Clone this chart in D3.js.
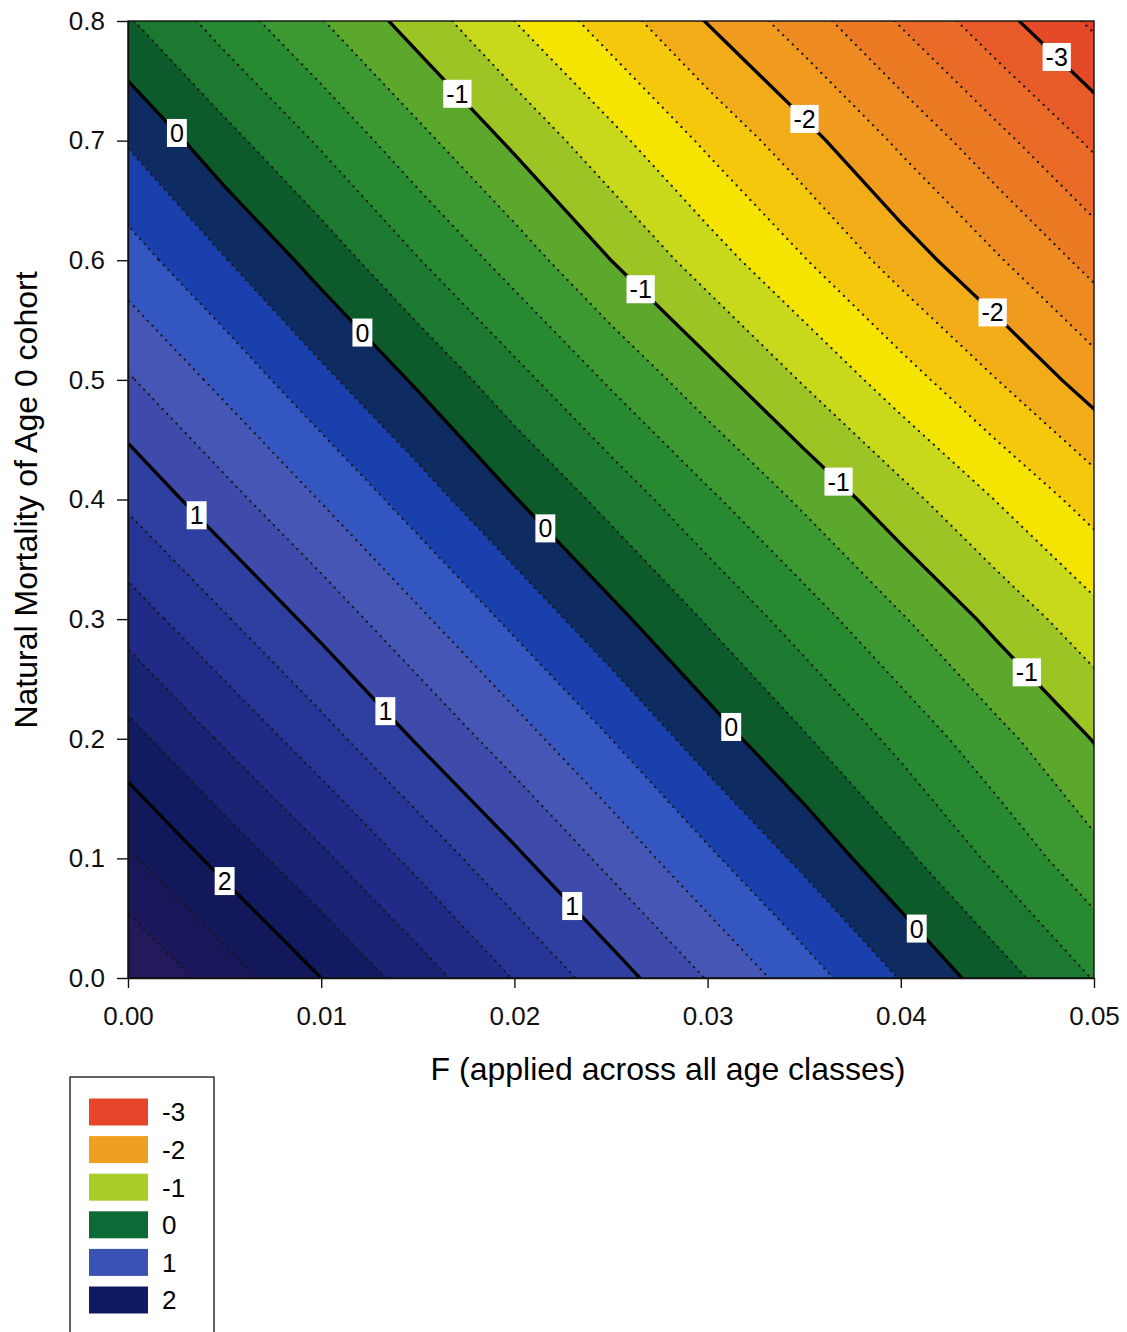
<!DOCTYPE html>
<html lang="en">
<head>
<meta charset="UTF-8">
<title>Contour - F vs natural mortality</title>
<script src="https://cdn.jsdelivr.net/npm/d3@7"></script>
<style>
  body { margin: 0; background: #fff; }
  svg { display: block; font-family: "Liberation Sans", Arial, sans-serif; }
  .axis text { font-size: 26px; fill: #111; }
  .axis path, .axis line { stroke: #111; stroke-width: 1.4px; }
</style>
</head>
<body>
<svg id="chart" width="1127" height="1332"></svg>
<script>
// grid: columns = F, rows = natural mortality
const fValues = [0, 0.005, 0.01, 0.015, 0.02, 0.025, 0.03, 0.035, 0.04, 0.045, 0.05];
const mValues = [0, 0.1, 0.2, 0.3, 0.4, 0.5, 0.6, 0.7, 0.8];
const zRows = [
  [2.60, 2.30, 2.00, 1.70, 1.39, 1.09, 0.79, 0.49, 0.19, -0.11, -0.41],
  [2.23, 1.93, 1.64, 1.34, 1.04, 0.74, 0.44, 0.15, -0.15, -0.45, -0.74],
  [1.87, 1.57, 1.28, 0.98, 0.69, 0.40, 0.10, -0.18, -0.46, -0.74, -1.01],
  [1.51, 1.22, 0.93, 0.64, 0.35, 0.06, -0.22, -0.50, -0.78, -1.06, -1.33],
  [1.16, 0.87, 0.59, 0.30, 0.01, -0.27, -0.56, -0.84, -1.13, -1.41, -1.69],
  [0.82, 0.54, 0.25, -0.03, -0.33, -0.63, -0.92, -1.22, -1.51, -1.80, -2.10],
  [0.49, 0.21, -0.08, -0.39, -0.69, -1.00, -1.30, -1.59, -1.89, -2.18, -2.47],
  [0.18, -0.13, -0.43, -0.74, -1.04, -1.34, -1.64, -1.93, -2.24, -2.54, -2.84],
  [-0.18, -0.49, -0.79, -1.09, -1.40, -1.70, -2.01, -2.31, -2.62, -2.93, -3.24]
];

// lower bound of each filled band and its colour
const bandLevels = [-3.4, -3.2, -3.0, -2.8, -2.6, -2.4, -2.2, -2.0, -1.8, -1.6, -1.4, -1.2, -1.0, -0.8, -0.6,
  -0.4, -0.2, 0, 0.2, 0.4, 0.6, 0.8, 1.0, 1.2, 1.4, 1.6, 1.8, 2.0, 2.2, 2.4];
const bandColors = ["#e23c26", "#e54a28", "#e85a28", "#ea6a27", "#ec7a25", "#ee8a22", "#f09a1e", "#f2ac18",
  "#f5c80c", "#f5e300", "#c8d81a", "#9cc424", "#5ca82c", "#3c9830", "#288a30", "#1b7a2f", "#0d5a2b",
  "#0f2c62", "#1a40ae", "#3356c0", "#4656b4", "#3e4bab", "#2f3fa0", "#263496", "#1f2b86", "#182374",
  "#111b62", "#121859", "#1a185a", "#23195b"];
const majorLevels = [-3, -2, -1, 0, 1, 2];

// contour labels
const labelLevels = [-3, -1, 0, -2, -1, -2, 0, -1, 1, 0, -1, 1, 0, 2, 1, 0];
const labelF = [0.0481, 0.0171, 0.0026, 0.0350, 0.0265, 0.0446, 0.0119, 0.0368, 0.0035, 0.0218, 0.0467, 0.0136, 0.0316, 0.0052, 0.0231, 0.0410];
const labelM = [0.770, 0.740, 0.707, 0.718, 0.574, 0.553, 0.537, 0.416, 0.386, 0.378, 0.258, 0.227, 0.215, 0.084, 0.062, 0.045];

const legendLabels = ["-3", "-2", "-1", "0", "1", "2"];
const legendColors = ["#e8462a", "#f0a020", "#a8cc28", "#0d6a36", "#3a52b4", "#0e1a62"];

const xTicks = [0, 0.01, 0.02, 0.03, 0.04, 0.05];
const yTicks = [0, 0.1, 0.2, 0.3, 0.4, 0.5, 0.6, 0.7, 0.8];

const svg = d3.select("#chart");
const plot = {left: 128, right: 1094, top: 21, bottom: 978};

const x = d3.scaleLinear().domain([0, 0.05]).range([plot.left, plot.right]);
const y = d3.scaleLinear().domain([0, 0.8]).range([plot.bottom, plot.top]);

// d3.contours puts sample i at i + 0.5
const gx = d3.scaleLinear().domain([0.5, fValues.length - 0.5]).range([fValues[0], fValues[fValues.length - 1]]);
const gy = d3.scaleLinear().domain([0.5, mValues.length - 0.5]).range([mValues[0], mValues[mValues.length - 1]]);
const proj = d3.geoTransform({
  point(px, py) { this.stream.point(x(gx(px)), y(gy(py))); }
});
const path = d3.geoPath(proj);

const contours = d3.contours().size([fValues.length, mValues.length]);
const flat = zRows.flat();

svg.append("defs").append("clipPath").attr("id", "clip")
  .append("rect")
  .attr("x", plot.left).attr("y", plot.top)
  .attr("width", plot.right - plot.left).attr("height", plot.bottom - plot.top);

const g = svg.append("g").attr("clip-path", "url(#clip)");

// filled bands
g.selectAll("path.band")
  .data(bandLevels.map((lv, i) => ({geom: contours.contour(flat, lv), color: bandColors[i]})))
  .join("path")
  .attr("class", "band")
  .attr("d", d => path(d.geom))
  .attr("fill", d => d.color)
  .attr("stroke", d => d.color)
  .attr("stroke-width", 0.6);

// dotted minor lines
g.selectAll("path.minor")
  .data(bandLevels.slice(1).filter(lv => !Number.isInteger(lv)))
  .join("path")
  .attr("class", "minor")
  .attr("d", lv => path(contours.contour(flat, lv)))
  .attr("fill", "none")
  .attr("stroke", "#161616")
  .attr("stroke-width", 2.2)
  .attr("stroke-linecap", "round")
  .attr("stroke-dasharray", "0.1,6.6");

// solid major lines
const majors = g.selectAll("path.major")
  .data(majorLevels)
  .join("path")
  .attr("class", "major")
  .attr("d", lv => path(contours.contour(flat, lv)))
  .attr("fill", "none")
  .attr("stroke", "#000")
  .attr("stroke-width", 3.3);

// frame
svg.append("rect")
  .attr("x", plot.left).attr("y", plot.top)
  .attr("width", plot.right - plot.left).attr("height", plot.bottom - plot.top)
  .attr("fill", "none").attr("stroke", "#111").attr("stroke-width", 1.4);

// axes
svg.append("g")
  .attr("class", "axis")
  .attr("transform", `translate(0,${plot.bottom})`)
  .call(d3.axisBottom(x).tickValues(xTicks).tickFormat(d3.format(".2f")).tickSize(10).tickSizeOuter(0).tickPadding(19));

svg.append("g")
  .attr("class", "axis")
  .attr("transform", `translate(${plot.left},0)`)
  .call(d3.axisLeft(y).tickValues(yTicks).tickFormat(d3.format(".1f")).tickSize(11).tickSizeOuter(0).tickPadding(12));

svg.append("text")
  .attr("x", 668).attr("y", 1080)
  .attr("text-anchor", "middle")
  .style("font-size", "32px")
  .text("F (applied across all age classes)");

svg.append("text")
  .attr("transform", "translate(37,500) rotate(-90)")
  .attr("text-anchor", "middle")
  .style("font-size", "32px")
  .text("Natural Mortality of Age 0 cohort");

// contour labels, snapped onto their line
const majorNodes = {};
majors.each(function(lv) { majorNodes[lv] = this; });

labelLevels.forEach((lv, i) => {
  const node = majorNodes[lv];
  const tx = x(labelF[i]), ty = y(labelM[i]);
  let best = {x: tx, y: ty}, bestD = Infinity;
  const len = node.getTotalLength();
  for (let s = 0; s <= len; s += 2) {
    const p = node.getPointAtLength(s);
    const d = (p.x - tx) ** 2 + (p.y - ty) ** 2;
    if (d < bestD) { bestD = d; best = p; }
  }
  const lg = svg.append("g").attr("transform", `translate(${best.x},${best.y})`);
  const t = lg.append("text")
    .attr("text-anchor", "middle")
    .attr("dy", "0.36em")
    .style("font-size", "25px")
    .text(String(lv));
  const w = t.node().getComputedTextLength() + 6;
  lg.insert("rect", "text")
    .attr("x", -w / 2).attr("y", -14)
    .attr("width", w).attr("height", 28)
    .attr("fill", "#fff");
});

// legend
const legend = svg.append("g");
legend.append("rect")
  .attr("x", 70).attr("y", 1077)
  .attr("width", 144).attr("height", 280)
  .attr("fill", "none").attr("stroke", "#222").attr("stroke-width", 1.4);

const ly = d3.scalePoint().domain(legendLabels).range([1112, 1300]);
legend.selectAll("rect.sw")
  .data(legendLabels)
  .join("rect")
  .attr("class", "sw")
  .attr("x", 89).attr("y", d => ly(d) - 13.5)
  .attr("width", 59).attr("height", 27)
  .attr("fill", (d, i) => legendColors[i]);
legend.selectAll("text")
  .data(legendLabels)
  .join("text")
  .attr("x", 162).attr("y", d => ly(d))
  .attr("dy", "0.36em")
  .style("font-size", "26px")
  .text(d => d);
</script>
</body>
</html>
